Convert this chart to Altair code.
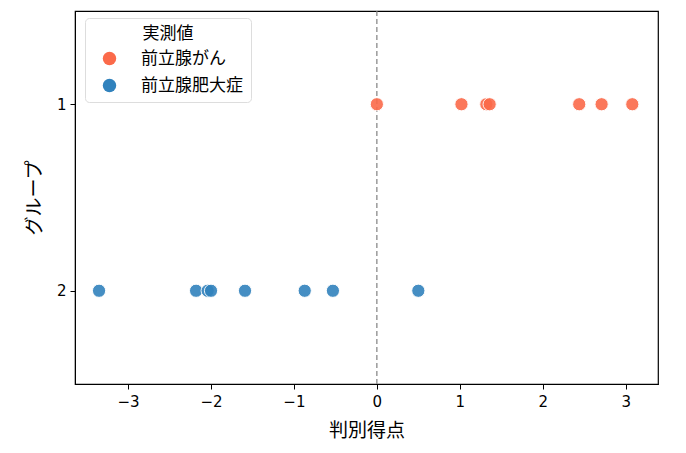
import altair as alt
import pandas as pd

cancer_scores = [0.00, 1.02, 1.32, 1.36, 2.44, 2.71, 3.08]
bph_scores = [-3.35, -2.18, -2.04, -2.00, -1.59, -0.87, -0.53, 0.50]
labels = ["前立腺がん", "前立腺肥大症"]
groups = [1, 2]

df = pd.DataFrame({
    "score": cancer_scores + bph_scores,
    "group": [groups[0]] * len(cancer_scores) + [groups[1]] * len(bph_scores),
    "label": [labels[0]] * len(cancer_scores) + [labels[1]] * len(bph_scores),
})

font = "Noto Sans CJK JP"
numfont = "DejaVu Sans"

points = alt.Chart(df).mark_point(filled=True, size=175, opacity=0.9,
                                  stroke="white", strokeWidth=1, strokeOpacity=1).encode(
    x=alt.X("score:Q", title="判別得点",
            scale=alt.Scale(domain=[-3.64, 3.39], nice=False, zero=False),
            axis=alt.Axis(values=[-3, -2, -1, 0, 1, 2, 3], grid=False, format="d",
                          titlePadding=12, labelPadding=5)),
    y=alt.Y("group:Q", title="グループ",
            scale=alt.Scale(domain=[0.5, 2.5], reverse=True, nice=False, zero=False),
            axis=alt.Axis(values=[1, 2], grid=False, format="d", titlePadding=12)),
    color=alt.Color("label:N", title="実測値",
                    scale=alt.Scale(domain=labels, range=["#fb6a4a", "#3182bd"]),
                    legend=alt.Legend(orient="none", legendX=10, legendY=7,
                                      fillColor="white",
                                      strokeColor="#dddddd", cornerRadius=4,
                                      padding=8, symbolSize=180,
                                      symbolOffset=8,
                                      symbolOpacity=1, symbolStrokeWidth=0,
                                      titleAlign="center", titleAnchor="middle",
                                      titleFontWeight="normal", titleFontSize=17,
                                      labelFontSize=17, rowPadding=9,
                                      labelOffset=23, titlePadding=7)),
)

zero_line = alt.Chart(pd.DataFrame({"x": [0]})).mark_rule(
    color="gray", strokeDash=[5, 3], strokeWidth=1.2).encode(x="x:Q")

chart = alt.layer(zero_line, points).properties(
    width=583, height=373,
    padding={"left": 17, "top": 2, "right": 5, "bottom": 5},
).configure_view(stroke="black", strokeWidth=1.2).configure_axis(
    labelFont=numfont, titleFont=font, labelFontSize=15, titleFontSize=19,
    titleFontWeight="normal", domainColor="black", tickColor="black",
    labelColor="black", titleColor="black", tickSize=5, labelPadding=4,
).configure_legend(labelFont=font, titleFont=font, labelColor="black",
                   titleColor="black")

chart.save("out.html", embed_options={"renderer": "svg", "actions": False})
